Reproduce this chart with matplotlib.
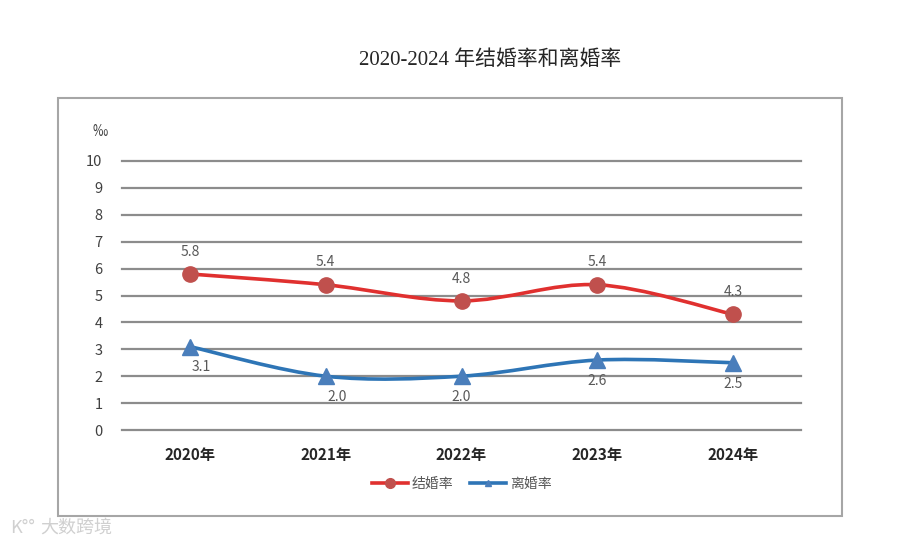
import numpy as np
import matplotlib.pyplot as plt
from matplotlib.path import Path
from matplotlib.patches import PathPatch, Rectangle
from matplotlib.lines import Line2D

plt.rcParams['font.family'] = ['Noto Sans CJK SC', 'DejaVu Sans']

years = ['2020年', '2021年', '2022年', '2023年', '2024年']
marriage = [5.8, 5.4, 4.8, 5.4, 4.3]
divorce = [3.1, 2.0, 2.0, 2.6, 2.5]
yticks = list(range(0, 11))

red = '#e0302f'
red_mk = '#c0504d'
blue = '#2e75b6'
blue_mk = '#4a7ebb'


def smooth_path(xs, ys, t=1/6):
    # bezier segments like an Excel "smoothed line"
    pts = list(zip(xs, ys))
    verts = [pts[0]]
    codes = [Path.MOVETO]
    n = len(pts)
    for i in range(n - 1):
        p0 = pts[i - 1] if i > 0 else pts[i]
        p1 = pts[i]
        p2 = pts[i + 1]
        p3 = pts[i + 2] if i + 2 < n else pts[i + 1]
        c1 = (p1[0] + (p2[0] - p0[0]) * t, p1[1] + (p2[1] - p0[1]) * t)
        c2 = (p2[0] - (p3[0] - p1[0]) * t, p2[1] - (p3[1] - p1[1]) * t)
        verts += [c1, c2, p2]
        codes += [Path.CURVE4] * 3
    return Path(verts, codes)


fig = plt.figure(figsize=(9, 5.47), dpi=100)
ax = fig.add_axes([122/900, 1 - 430/547, 679/900, 269/547])

x = np.arange(len(years))
ax.set_xlim(-0.5, len(years) - 0.5)
ax.set_ylim(0, 10)

for v in yticks:
    ax.axhline(v, color='#8c8c8c', lw=1.6, zorder=1, clip_on=False)

ax.add_patch(PathPatch(smooth_path(x, marriage), fill=False, edgecolor=red, lw=2.6, zorder=3, clip_on=False))
ax.add_patch(PathPatch(smooth_path(x, divorce), fill=False, edgecolor=blue, lw=2.6, zorder=3, clip_on=False))
ax.plot(x, marriage, 'o', ms=11, color=red_mk, zorder=4, clip_on=False)
ax.plot(x, divorce, '^', ms=11, color=blue_mk, zorder=4, clip_on=False)

for xi, v in zip(x, marriage):
    ax.annotate(f'{v:.1f}', (xi, v), xytext=(0, 11), textcoords='offset points',
                ha='center', va='bottom', fontsize=10, color='#595959')
for xi, v in zip(x, divorce):
    dx = 8 if xi < 2 else 0
    ax.annotate(f'{v:.1f}', (xi, v), xytext=(dx, -10), textcoords='offset points',
                ha='center', va='top', fontsize=10, color='#595959')

ax.set_yticks(yticks)
ax.set_yticklabels([str(v) for v in yticks], fontsize=10.5, color='#404040')
ax.set_xticks(x)
ax.set_xticklabels(years, fontsize=11, color='#262626', fontweight='bold')
ax.tick_params(length=0, axis='y', pad=14)
ax.tick_params(length=0, axis='x', pad=12)
for s in ax.spines.values():
    s.set_visible(False)

fig.text(108/900, 1 - 132/547, '‰', ha='right', va='center', fontsize=11, color='#404040')
fig.text(490/900, 1 - 60/547, '2020-2024 年结婚率和离婚率', ha='center', va='center',
         fontsize=15, color='#262626', family=['Liberation Serif', 'Noto Sans CJK SC'])

handles = [Line2D([], [], color=red, lw=2.6, marker='o', ms=7, markerfacecolor=red_mk, markeredgecolor=red_mk),
           Line2D([], [], color=blue, lw=2.6, marker='^', ms=5, markerfacecolor=blue_mk, markeredgecolor=blue_mk)]
fig.legend(handles, ['结婚率', '离婚率'], loc='center', bbox_to_anchor=(462/900, 1 - 484/547),
           ncol=2, frameon=False, fontsize=10, labelcolor='#595959', handlelength=2.6,
           handletextpad=0.3, columnspacing=1.2)

fig.patches.append(Rectangle((58/900, 1 - 516/547), 784/900, 418/547, transform=fig.transFigure,
                             fill=False, edgecolor='#a6a6a6', lw=1.5))

fig.text(40/900, 1 - 528/547, '大数跨境', ha='left', va='center', fontsize=13, color='#d0d0d0')
fig.text(10/900, 1 - 528/547, 'K°°', ha='left', va='center', fontsize=13, color='#d0d0d0')

fig.savefig('out.png', dpi=100, facecolor='white')
